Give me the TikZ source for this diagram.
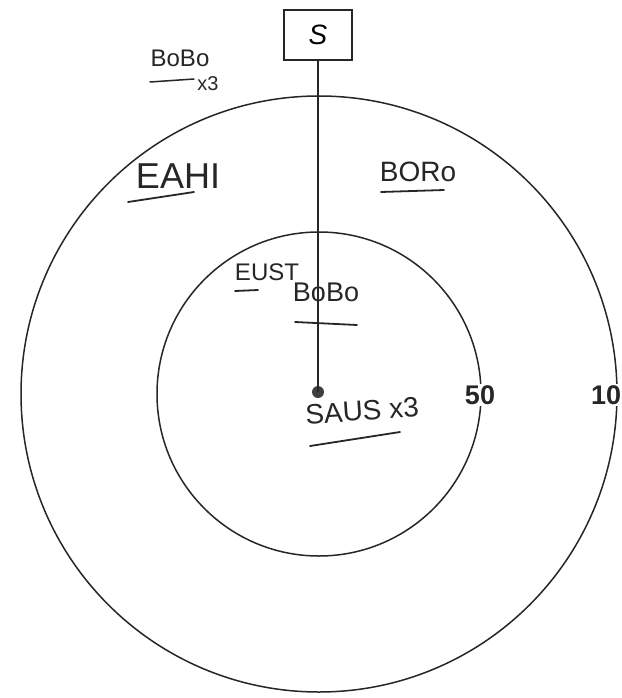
\documentclass[tikz,border=0pt]{standalone}
\usepackage{fontspec}
\setmainfont{Liberation Sans}
\begin{document}
\begin{tikzpicture}[x=1pt,y=-1pt,
  ring/.style={draw=black!85,line width=1.5pt},
  hand/.style={inner sep=0pt,text=black!85},
  uline/.style={draw=black!85,line width=1.8pt,line cap=round},
  num/.style={fill=white,inner sep=1pt,font=\fontsize{27}{30}\selectfont\bfseries,text=black!85}]
\useasboundingbox (0,0) rectangle (621,698);
\coordinate (c) at (319,394);
\draw[ring] (c) circle[radius=298];
\draw[ring] (c) circle[radius=162];
\node[draw=black!85,line width=1.5pt,minimum width=68pt,minimum height=50pt,inner sep=0pt,font=\fontsize{28}{30}\selectfont] (s) at (318,35) {\itshape S};
\node[circle,fill=black!75,inner sep=0pt,minimum size=12pt] (dot) at (318,392) {};
\draw[line width=1.5pt,black!85] (s.south) -- (dot.center);
\node[num] (n50) at (480,395) {50};
\node[num,anchor=west] (n10) at (590,395) {10};
% handwritten labels
\node[hand,font=\fontsize{24}{26}\selectfont] (bb) at (180,58) {BoBo};
\node[hand,font=\fontsize{20}{22}\selectfont] (x3) at (208,84) {x3};
\draw[uline,line width=1.5pt] (150,82) -- (194,79);
\node[hand,font=\fontsize{36}{38}\selectfont] (eahi) at (178,176) {EAHI};
\draw[uline] (128,202) -- (194,192);
\node[hand,font=\fontsize{28}{30}\selectfont] (boro) at (418,172) {BORo};
\draw[uline] (381,192) -- (444,190);
\node[hand,font=\fontsize{24}{26}\selectfont] (eust) at (267,272) {EUST};
\draw[uline] (235,291) -- (258,290);
\node[hand,font=\fontsize{27}{29}\selectfont] (bobo) at (326,292) {BoBo};
\draw[uline] (295,322) -- (357,325);
\node[hand,font=\fontsize{28}{30}\selectfont,rotate=4] (saus) at (362,411) {SAUS x3};
\draw[uline] (310,446) -- (400,432);
\end{tikzpicture}
\end{document}
